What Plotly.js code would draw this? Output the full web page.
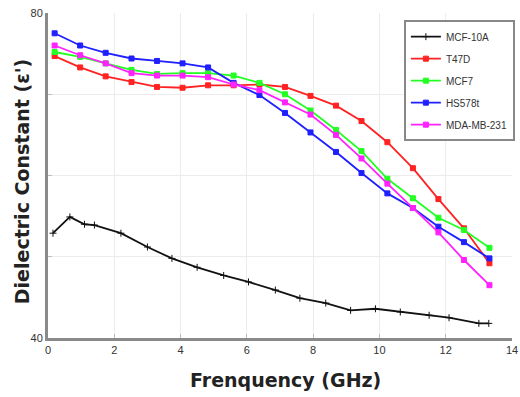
<!DOCTYPE html>
<html>
<head>
<meta charset="utf-8">
<script src="https://cdn.plot.ly/plotly-3.0.1.min.js"></script>
<style>html,body{margin:0;padding:0;background:#fff;}#chart{width:520px;height:397px;}</style>
</head>
<body>
<div id="chart"></div>
<script>
// Frequency grid (GHz) shared by the four cancer-cell series
const freq = [0.2, 0.97, 1.74, 2.52, 3.29, 4.06, 4.83, 5.6, 6.38, 7.15, 7.92, 8.69, 9.46, 10.24, 11.01, 11.78, 12.55, 13.32];
// MCF-10A frequency points and values
const freqMCF10A = [0.15, 0.66, 1.1, 1.4, 2.2, 3.0, 3.74, 4.5, 5.3, 6.05, 6.86, 7.6, 8.38, 9.13, 9.88, 10.63, 11.5, 12.1, 13.0, 13.3];
const mcf10a = [52.9, 54.9, 54.0, 53.9, 52.9, 51.2, 49.8, 48.7, 47.7, 46.9, 45.9, 44.9, 44.3, 43.4, 43.6, 43.2, 42.8, 42.5, 41.8, 41.8];
const t47d  = [74.7, 73.3, 72.2, 71.5, 70.9, 70.8, 71.1, 71.1, 71.2, 70.9, 69.8, 68.6, 66.7, 64.1, 60.9, 57.1, 53.5, 49.2];
const mcf7  = [75.2, 74.6, 73.8, 73.0, 72.5, 72.6, 72.6, 72.3, 71.4, 70.0, 68.0, 65.6, 63.0, 59.6, 57.2, 54.8, 53.3, 51.1];
const hs578t = [77.5, 76.0, 75.1, 74.4, 74.1, 73.8, 73.3, 71.4, 69.9, 67.7, 65.3, 62.9, 60.3, 57.8, 56.0, 53.7, 51.8, 49.8];
const mda231 = [76.0, 74.8, 73.8, 72.6, 72.3, 72.3, 72.1, 71.2, 70.5, 69.0, 67.5, 65.0, 62.1, 59.0, 56.0, 53.0, 49.6, 46.5];
const names = ["MCF-10A", "T47D", "MCF7", "HS578t", "MDA-MB-231"];
const yTickVals = [40, 50, 60, 70, 80];
const yTickText = ["40", "", "", "", "80"];
const xTickVals = [0, 2, 4, 6, 8, 10, 12, 14];
const xTitle = 'Frenquency (GHz)';
const yTitle = "Dielectric Constant (ε')";

function tr(x, y, name, color, symbol, size) {
  return {x: x, y: y, name: name, legendgroup: name, type: 'scatter', mode: 'lines+markers',
    line: {color: color, width: 1.8},
    marker: {color: color, symbol: symbol, size: size, line: {color: color, width: 1}}};
}
const data = [
  tr(freqMCF10A, mcf10a, names[0], '#111111', 'cross-thin', 5),
  tr(freq, t47d, names[1], '#ff2222', 'square', 5),
  tr(freq, mcf7, names[2], '#22ff22', 'square', 5),
  tr(freq, hs578t, names[3], '#1f1fff', 'square', 5),
  tr(freq, mda231, names[4], '#ff22ff', 'square', 5)
];
const layout = {
  width: 520, height: 397,
  margin: {l: 48, r: 5, t: 13, b: 59},
  paper_bgcolor: '#fff', plot_bgcolor: '#fff',
  font: {family: 'Arial, Liberation Sans, sans-serif', color: '#222', size: 11},
  showlegend: true,
  legend: {x: 0.767, y: 0.978, xanchor: 'left', yanchor: 'top', bgcolor: '#fff',
    bordercolor: '#888', borderwidth: 2, font: {size: 10, color: '#333'}, tracegroupgap: 3},
  xaxis: {range: [0, 14], tickvals: xTickVals, showgrid: true, gridcolor: '#ececec', gridwidth: 1,
    showline: true, linecolor: '#8a8a8a', linewidth: 3, ticks: 'inside', ticklen: 4, tickcolor: '#bbb',
    zeroline: false, tickfont: {size: 11, color: '#333'}},
  yaxis: {range: [40, 80], tickvals: yTickVals, ticktext: yTickText, showgrid: true, gridcolor: '#ececec', gridwidth: 1,
    showline: true, linecolor: '#8a8a8a', linewidth: 3, ticks: 'inside', ticklen: 4, tickcolor: '#bbb',
    zeroline: false, tickfont: {size: 11, color: '#333'}},
  annotations: [
    {text: yTitle, xref: 'paper', yref: 'paper', x: -26 / 467, y: 0.48,
      xanchor: 'center', yanchor: 'middle', textangle: -90, showarrow: false,
      font: {family: 'DejaVu Sans', size: 19, color: '#222', weight: 'bold'}},
    {text: xTitle, xref: 'paper', yref: 'paper', x: (287 - 48) / 467, y: -42 / 325,
      xanchor: 'center', yanchor: 'middle', showarrow: false,
      font: {family: 'DejaVu Sans', size: 19, color: '#222', weight: 'bold'}}
  ]
};
Plotly.newPlot('chart', data, layout, {displayModeBar: false, staticPlot: true});
</script>
</body>
</html>
